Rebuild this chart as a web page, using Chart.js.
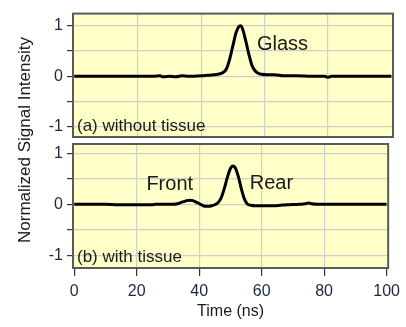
<!DOCTYPE html>
<html>
<head>
<meta charset="utf-8">
<script src="https://cdn.jsdelivr.net/npm/chart.js@4"></script>
<style>
  body { margin: 0; background: #fff; }
  #wrap { position: relative; width: 406px; height: 327px; }
  #wrap canvas { position: absolute; left: 0; top: 0; }
  #ytitle {
    position: absolute; left: 25px; top: 140px;
    transform: translate(-50%, -50%) rotate(-90deg);
    font: 17px "Liberation Sans", Arial, sans-serif; color: #1a1a1a;
    white-space: nowrap;
  }
</style>
</head>
<body>
<div id="wrap">
  <canvas id="top" width="406" height="327"></canvas>
  <canvas id="bottom" width="406" height="327"></canvas>
  <div id="ytitle">Normalized Signal Intensity</div>
</div>
<script>
// panel (a): without tissue
const timesA  = [0, 5, 10, 15, 20, 25, 27, 28, 30, 32, 34, 36, 40, 42, 44, 46, 47, 48, 49, 50, 51, 52, 52.5, 53, 54, 55, 56, 57, 58, 59, 61, 63, 66, 70, 75, 79, 80, 81, 85, 90, 95, 100];
const signalA = [0, 0, 0, 0, 0, 0, 0.01, -0.01, 0, -0.01, 0.01, 0, 0.01, 0.02, 0.03, 0.05, 0.08, 0.15, 0.34, 0.6, 0.86, 0.99, 1.0, 0.95, 0.72, 0.45, 0.22, 0.11, 0.06, 0.04, 0.03, 0.03, 0.01, 0.01, 0, 0, -0.02, 0, 0, 0, 0, 0];
// panel (b): with tissue
const timesB  = [0, 10, 14, 20, 25, 26, 30, 32, 33, 34, 35, 36, 37, 38, 39, 40, 41, 42, 43, 44, 45, 46, 47, 48, 49, 50, 50.8, 51.5, 52.5, 53.5, 54.5, 55.5, 56.5, 58, 60, 64, 66, 68, 72, 74, 75, 76, 78, 85, 90, 100];
const signalB = [0, 0, -0.01, -0.01, -0.01, 0, 0, 0, 0.01, 0.03, 0.05, 0.07, 0.08, 0.07, 0.04, 0.01, -0.02, -0.04, -0.04, -0.03, -0.01, 0.03, 0.12, 0.3, 0.52, 0.7, 0.75, 0.72, 0.55, 0.3, 0.1, 0, -0.02, -0.03, -0.03, -0.03, -0.02, -0.01, 0, 0.01, 0.025, 0.01, 0, 0, 0, 0];

const xTicks = [0, 20, 40, 60, 80, 100];
const yTickLabels = { '-1': '-1', '0': '0', '1': '1' };

const FONT = '"Liberation Sans", Arial, sans-serif';
const TICK_COLOR = '#1c2740';

function pairs(xs, ys) { return xs.map((x, i) => ({ x: x, y: ys[i] })); }

const panelPlugin = {
  id: 'panel',
  beforeDraw(chart) {
    const a = chart.chartArea, c = chart.ctx;
    c.save();
    c.fillStyle = '#ffffc8';
    c.fillRect(a.left, a.top, a.right - a.left, a.bottom - a.top);
    c.restore();
  },
  afterDraw(chart) {
    const a = chart.chartArea, c = chart.ctx;
    const opts = chart.options.plugins.panel;
    c.save();
    c.strokeStyle = '#5a5a5a';
    c.lineWidth = 2;
    c.strokeRect(a.left, a.top, a.right - a.left, a.bottom - a.top);
    c.fillStyle = '#1a1a1a';
    c.textBaseline = 'alphabetic';
    c.textAlign = 'left';
    c.font = '17px ' + FONT;
    c.fillText(opts.label, a.left + 4, a.bottom - 6);
    c.font = '20px ' + FONT;
    const xs = chart.scales.x, ys = chart.scales.y;
    opts.notes.forEach(n => c.fillText(n.text, xs.getPixelForValue(n.x), ys.getPixelForValue(n.y)));
    c.restore();
  }
};

function makeChart(id, xs, ys, label, notes, isBottom) {
  return new Chart(document.getElementById(id), {
    type: 'line',
    plugins: [panelPlugin],
    data: {
      datasets: [{
        data: pairs(xs, ys),
        borderColor: '#000',
        borderWidth: 3,
        pointRadius: 0,
        cubicInterpolationMode: 'monotone',
        fill: false
      }]
    },
    options: {
      responsive: false,
      animation: false,
      devicePixelRatio: 1,
      layout: { padding: isBottom ? { top: 144, bottom: 2, left: 0, right: 13 } : { top: 12, bottom: 190, left: 0, right: 13 } },
      plugins: {
        legend: { display: false },
        tooltip: { enabled: false },
        panel: { label: label, notes: notes }
      },
      scales: {
        x: {
          type: 'linear',
          min: -0.4,
          max: 100.5,
          afterBuildTicks: s => { s.ticks = xTicks.map(v => ({ value: v })); },
          grid: {
            color: ctx => (ctx.tick && (ctx.tick.value === 0 || ctx.tick.value === 100)) ? 'rgba(0,0,0,0)' : '#cfcfcf',
            lineWidth: 1.2,
            drawTicks: isBottom,
            tickLength: 8,
            tickColor: '#333',
            tickWidth: 1.2
          },
          border: { display: false },
          ticks: {
            display: isBottom,
            color: TICK_COLOR,
            font: { family: FONT, size: 16 },
            padding: 6,
            maxRotation: 0
          },
          title: {
            display: isBottom,
            text: 'Time (ns)',
            color: '#1a1a1a',
            font: { family: FONT, size: 16 },
            padding: { top: 2, bottom: 4 }
          },
          afterFit: s => { s.height = isBottom ? 57 : 0; }
        },
        y: {
          min: isBottom ? -1.25 : -1.2,
          max: isBottom ? 1.18 : 1.24,
          afterBuildTicks: s => { s.ticks = [-1, -0.5, 0, 0.5, 1].map(v => ({ value: v })); },
          grid: {
            color: '#cfcfcf',
            lineWidth: 1.2,
            tickLength: 6,
            tickColor: '#333',
            tickWidth: 1.2
          },
          border: { display: false },
          ticks: {
            color: TICK_COLOR,
            font: { family: FONT, size: 16 },
            padding: 4,
            callback: v => yTickLabels[String(v)] || ''
          },
          afterFit: s => { s.width = 73; }
        }
      }
    }
  });
}

makeChart('top', timesA, signalA, '(a) without tissue', [{ text: 'Glass', x: 57.6, y: 0.52 }], false);
makeChart('bottom', timesB, signalB, '(b) with tissue',
  [{ text: 'Front', x: 23.1, y: 0.28 }, { text: 'Rear', x: 56.2, y: 0.30 }], true);
</script>
</body>
</html>
